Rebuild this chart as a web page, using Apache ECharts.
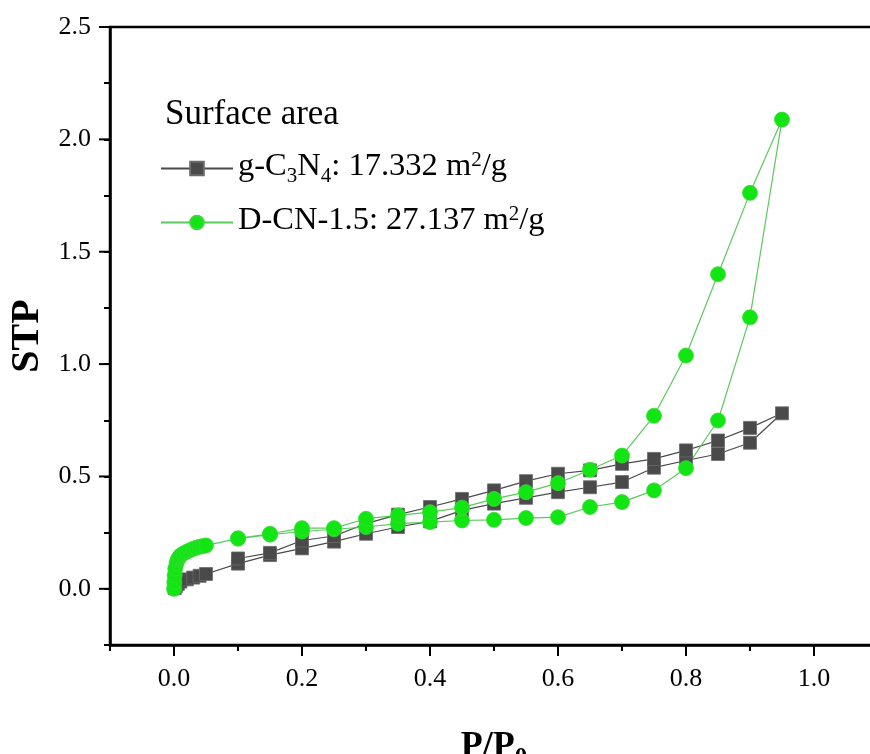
<!DOCTYPE html>
<html>
<head>
<meta charset="utf-8">
<script src="https://cdn.jsdelivr.net/npm/echarts@6/dist/echarts.min.js"></script>
<style>
html,body{margin:0;padding:0;background:#fff;overflow:hidden;width:870px;height:754px;}
#c{width:880px;height:754px;}
</style>
</head>
<body>
<div id="c"></div>
<script>
// ---- data ----
const xMin = -0.1, xMax = 1.1, xMinorStep = 0.1, xMajorStep = 0.2;
const yMin = -0.25, yMax = 2.5, yMinorStep = 0.25, yMajorStep = 0.5;
const xMajorTicks = [0, 0.2, 0.4, 0.6, 0.8, 1.0];
const yMajorTicks = [0, 0.5, 1.0, 1.5, 2.0, 2.5];

// g-C3N4: adsorption then desorption (P/P0, STP)
const gcnP = [0.001, 0.003, 0.006, 0.01, 0.02, 0.03, 0.04, 0.05, 0.1, 0.15, 0.2, 0.25, 0.3, 0.35, 0.4, 0.45, 0.5, 0.55, 0.6, 0.65, 0.7, 0.75, 0.8, 0.85, 0.9, 0.95,
              0.9, 0.85, 0.8, 0.75, 0.7, 0.65, 0.6, 0.55, 0.5, 0.45, 0.4, 0.35, 0.3, 0.25, 0.2, 0.15, 0.1];
const gcnV = [0.003, 0.012, 0.022, 0.032, 0.042, 0.05, 0.058, 0.066, 0.112, 0.15, 0.18, 0.21, 0.245, 0.275, 0.30, 0.349, 0.379, 0.405, 0.43, 0.452, 0.475, 0.539, 0.571, 0.60, 0.65, 0.781,
              0.716, 0.66, 0.616, 0.578, 0.556, 0.527, 0.512, 0.479, 0.438, 0.40, 0.364, 0.33, 0.29, 0.235, 0.215, 0.16, 0.135];

// D-CN-1.5: adsorption then desorption
const dcnP = [0.0001, 0.0005, 0.001, 0.002, 0.004, 0.006, 0.008, 0.01, 0.015, 0.02, 0.025, 0.03, 0.035, 0.04, 0.045, 0.05, 0.1, 0.15, 0.2, 0.25, 0.3, 0.35, 0.4, 0.45, 0.5, 0.55, 0.6, 0.65, 0.7, 0.75, 0.8, 0.85, 0.9, 0.95,
              0.9, 0.85, 0.8, 0.75, 0.7, 0.65, 0.6, 0.55, 0.5, 0.45, 0.4, 0.35, 0.3, 0.25, 0.2, 0.15, 0.1];
const dcnV = [0.0, 0.03, 0.06, 0.09, 0.115, 0.13, 0.14, 0.148, 0.158, 0.165, 0.172, 0.178, 0.183, 0.187, 0.19, 0.193, 0.223, 0.241, 0.255, 0.265, 0.275, 0.29, 0.297, 0.304, 0.307, 0.315, 0.319, 0.364, 0.386, 0.438, 0.537, 0.749, 1.208, 2.088,
              1.762, 1.40, 1.038, 0.77, 0.593, 0.53, 0.47, 0.43, 0.40, 0.361, 0.341, 0.327, 0.312, 0.27, 0.27, 0.245, 0.225];

const seriesNames = ['g-C3N4', 'D-CN-1.5'];
const legendTitle = 'Surface area';
const xTitle = 'P/P';
const xTitleSub = '0';
const yTitle = 'STP';

// ---- chart ----
const FF = "'Liberation Serif', 'Times New Roman', serif";
const zip = (a, b) => a.map((v, i) => [v, b[i]]);
const chart = echarts.init(document.getElementById('c'), null, {renderer: 'canvas'});
const G = {left: 110, top: 27, width: 768, height: 618};
const isMult = (v, step) => Math.abs(v / step - Math.round(v / step)) < 1e-6;
const blank = {show: false};

chart.setOption({
  animation: false,
  backgroundColor: '#fff',
  grid: Object.assign({show: true, borderColor: '#000', borderWidth: 2.5, containLabel: false, outerBoundsMode: 'none'}, G),
  title: {text: legendTitle, left: 165, top: 97, padding: 0,
          textStyle: {fontFamily: FF, fontSize: 35, fontWeight: 'normal', color: '#000'}},
  legend: {
    orient: 'vertical', left: 160, top: 150, padding: 0, itemWidth: 72, itemHeight: 17, itemGap: 17,
    data: seriesNames,
    formatter: function (name) {
      return name === seriesNames[0]
        ? '{n|g-C}{sub|3}{n|N}{sub|4}{n|: 17.332 m}{sup|2}{n|/g}'
        : '{n|D-CN-1.5: 27.137 m}{sup|2}{n|/g}';
    },
    textStyle: {
      fontFamily: FF, color: '#000',
      rich: {
        n: {fontFamily: FF, fontSize: 32.5, color: '#000', verticalAlign: 'bottom', padding: [0, 0, 4, 0]},
        sub: {fontFamily: FF, fontSize: 21, color: '#000', verticalAlign: 'bottom'},
        sup: {fontFamily: FF, fontSize: 21, color: '#000', verticalAlign: 'top'}
      }
    }
  },
  xAxis: [
    {
      // axis line + all (short) ticks
      type: 'value', position: 'bottom', min: xMin, max: xMax, interval: xMinorStep, z: 5,
      splitLine: blank,
      axisLine: {onZero: false, lineStyle: {color: '#000', width: 2.5}},
      axisTick: {show: true, length: 6, lineStyle: {color: '#000', width: 2}},
      axisLabel: blank
    },
    {
      // labels + title only, drawn underneath
      type: 'value', position: 'bottom', min: xMin, max: xMax, interval: xMinorStep, z: 0,
      splitLine: blank, axisLine: {show: false, onZero: false}, axisTick: {show: false},
      name: '{b|' + xTitle + '}{s|' + xTitleSub + '}', nameLocation: 'middle', nameGap: 84,
      nameTextStyle: {rich: {
        b: {fontFamily: FF, fontSize: 36, fontWeight: 'bold', color: '#000', verticalAlign: 'bottom', padding: [0, 0, 6, 0]},
        s: {fontFamily: FF, fontSize: 25, fontWeight: 'bold', color: '#000', verticalAlign: 'bottom'}
      }},
      axisLabel: {margin: 21, fontFamily: FF, fontSize: 26, color: '#000',
                  formatter: v => (v >= -1e-9 && v <= 1.0 + 1e-9 && isMult(v, xMajorStep)) ? Math.abs(v).toFixed(1) : ''}
    }
  ],
  yAxis: [
    {
      type: 'value', position: 'left', min: yMin, max: yMax, interval: yMinorStep, z: 5,
      splitLine: blank,
      axisLine: {onZero: false, lineStyle: {color: '#000', width: 2.5}},
      axisTick: {show: true, length: 6, lineStyle: {color: '#000', width: 2}},
      axisLabel: blank
    },
    {
      type: 'value', position: 'left', min: yMin, max: yMax, interval: yMinorStep, z: 0,
      splitLine: blank, axisLine: {show: false, onZero: false}, axisTick: {show: false},
      name: yTitle, nameLocation: 'middle', nameRotate: 90, nameGap: 61,
      nameTextStyle: {fontFamily: FF, fontSize: 40, fontWeight: 'bold', color: '#000'},
      axisLabel: {margin: 19, fontFamily: FF, fontSize: 26, color: '#000',
                  formatter: v => (v >= -1e-9 && isMult(v, yMajorStep)) ? Math.abs(v).toFixed(1) : ''}
    }
  ],
  series: [
    {
      name: seriesNames[0], type: 'line', xAxisIndex: 0, yAxisIndex: 0,
      data: zip(gcnP, gcnV), symbol: 'rect', symbolSize: 13,
      itemStyle: {color: '#4a4a4a', borderColor: '#6a6a6a', borderWidth: 0.8},
      lineStyle: {color: '#4a4a4a', width: 1.2}
    },
    {
      name: seriesNames[1], type: 'line', xAxisIndex: 0, yAxisIndex: 0,
      data: zip(dcnP, dcnV), symbol: 'circle', symbolSize: 15,
      itemStyle: {color: '#12e612', borderColor: '#3ad83a', borderWidth: 0.8},
      lineStyle: {color: '#5cc95c', width: 1.2}
    }
  ]
});

// long major ticks, positioned through the axis scales
const tickEls = [];
xMajorTicks.forEach(v => {
  const p = chart.convertToPixel({xAxisIndex: 0, yAxisIndex: 0}, [v, yMin]);
  tickEls.push({type: 'line', silent: true, z: 100,
                shape: {x1: p[0], y1: p[1], x2: p[0], y2: p[1] + 11}, style: {stroke: '#000', lineWidth: 2}});
});
yMajorTicks.forEach(v => {
  const p = chart.convertToPixel({xAxisIndex: 0, yAxisIndex: 0}, [xMin, v]);
  tickEls.push({type: 'line', silent: true, z: 100,
                shape: {x1: p[0], y1: p[1], x2: p[0] - 11, y2: p[1]}, style: {stroke: '#000', lineWidth: 2}});
});
chart.setOption({graphic: {elements: tickEls}});
</script>
</body>
</html>
